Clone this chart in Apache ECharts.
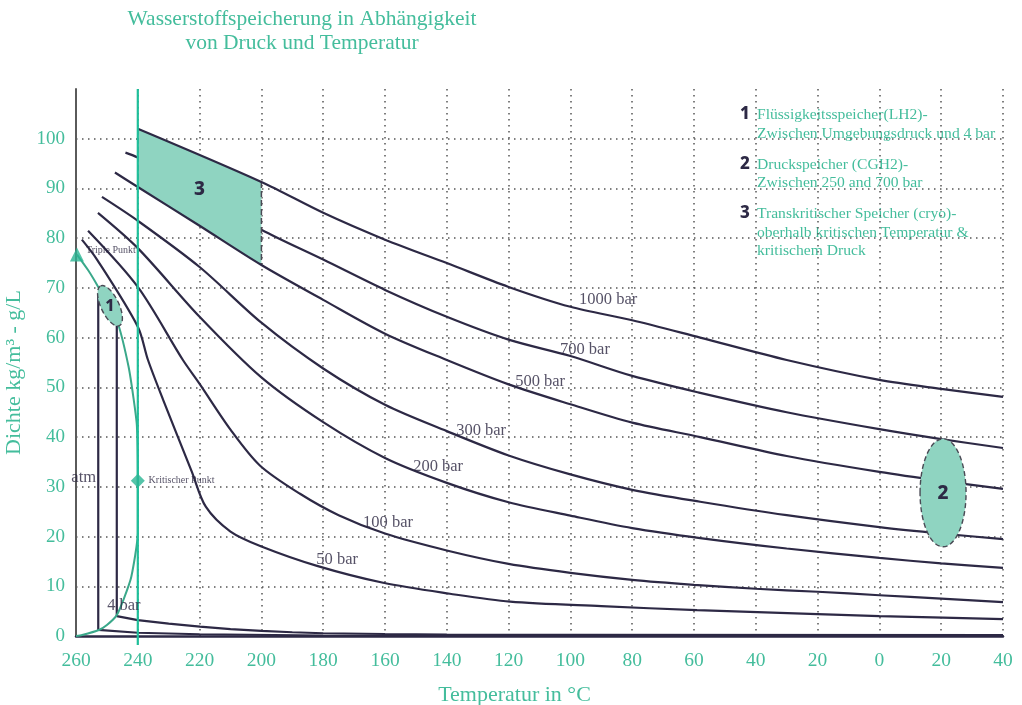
<!DOCTYPE html>
<html>
<head>
<meta charset="utf-8">
<script src="https://cdn.jsdelivr.net/npm/echarts@6/dist/echarts.min.js"></script>
<style>
  html, body { margin: 0; padding: 0; background: #fff; }
  #chart { width: 1022px; height: 705px; }
</style>
</head>
<body>
<div id="chart"></div>
<script>
// isobars: [Temperatur °C, Dichte g/L]
const p1000 = [[-240,102],[-200,91.3],[-180,85.1],[-160,79.7],[-140,75],[-120,70.2],[-100,66.2],[-80,63.5],[-58,60],[-30,55.5],[0,51.5],[20,49.7],[40,48.1]];
const p700 = [[-244,97.2],[-240,96.2],[-220,89],[-200,81.7],[-180,75.7],[-160,69.6],[-140,64.2],[-120,59.6],[-100,56.3],[-80,52.3],[-58,48.9],[-30,45],[0,41.6],[20,39.6],[40,37.8]];
const p500 = [[-247.4,93.2],[-240,90.3],[-220,82.5],[-200,74.6],[-180,67.6],[-160,60.8],[-140,55.5],[-120,50.6],[-100,46.6],[-80,42.9],[-58,40],[-30,36.2],[0,33],[20,31.2],[40,29.6]];
const p300 = [[-251.6,88.3],[-240,83.5],[-220,74.2],[-200,63],[-180,53.8],[-160,46.5],[-140,41.2],[-120,36.3],[-100,32.5],[-80,29.4],[-58,27],[-30,24.3],[0,21.9],[20,20.6],[40,19.5]];
const p200 = [[-252.9,85.1],[-240,78],[-220,64.2],[-200,52],[-180,43],[-160,35.8],[-140,30.8],[-120,26.9],[-100,24.2],[-80,21.7],[-58,19.7],[-30,17.6],[0,15.7],[20,14.6],[40,13.7]];
const p100 = [[-256.1,81.5],[-240,70.2],[-225.4,55.5],[-220,50.7],[-210,41.5],[-200.5,34.3],[-187.5,28.6],[-175,24.3],[-160,20.6],[-140,17.2],[-120,14.5],[-100,12.7],[-80,11.3],[-60,10.3],[-40,9.5],[-20,8.9],[0,8.2],[20,7.5],[40,6.8]];
const p50 = [[-258.1,79.7],[-253.2,75.7],[-240,62.2],[-236.7,55.5],[-231.8,47.5],[-222.5,33],[-218,26],[-210,21],[-200,18],[-182,14.1],[-160.6,10.7],[-139,8.5],[-119.5,6.9],[-90,6],[-59,5.2],[-20,4.4],[0,4],[40,3.4]];
const p4 = [[-246.8,62.6],[-246.8,4],[-240,3.2],[-230,2.5],[-219.9,1.9],[-210,1.4],[-200,1.05],[-190,0.75],[-180,0.55],[-160,0.4],[-140,0.3],[-100,0.25],[40,0.2]];
const pAtm = [[-252.8,69],[-252.8,1.25],[-240,0.65],[-220,0.35],[-180,0.1],[40,0.05]];
// Sättigungslinie (Tripelpunkt -> kritischer Punkt -> Dampf)
const saturation = [[-259.7,76.7],[-256,73.5],[-252.8,70.2],[-249.5,66.5],[-246.3,62.6],[-243,54.2],[-241.4,47.9],[-240.3,42.3],[-240,31.2],[-240,20.7],[-242.1,11.9],[-244.5,7.5],[-246.8,4.2],[-250,2.2],[-252.6,1.2],[-258,0.2],[-260,0]];
const triplePoint = [-259.7, 76.7];
const criticalPoint = [-240, 31.2];
const criticalLine = [[-240, -1.8], [-240, 110]];

// Speicherbereiche
const zone1 = [-249, 66.4];
const zone2 = [20.6, 28.8];
const zone3 = [[-240,102],[-200,91.3],[-200,74.6],[-240,90.3]];
const zone3Label = [-220, 89.8];

// Beschriftungen
const curveLabels = [
  [-87.8, 67.6, '1000 bar'],
  [-95.3, 57.5, '700 bar'],
  [-109.8, 51.1, '500 bar'],
  [-128.9, 41.2, '300 bar'],
  [-142.8, 34, '200 bar'],
  [-159, 22.7, '100 bar'],
  [-175.5, 15.3, '50 bar'],
  [-244.5, 6, '4 bar'],
  [-257.5, 31.8, 'atm']
];
const pointLabels = [
  [-256.8, 77.5, 'Triple Punkt'],
  [-236.5, 31.2, 'Kritischer Punkt']
];
const legendItems = [
  ['1', 'Flüssigkeitsspeicher(LH2)-', 'Zwischen Umgebungsdruck und 4 bar'],
  ['2', 'Druckspeicher (CGH2)-', 'Zwischen 250 and 700 bar'],
  ['3', 'Transkritischer Speicher (cryo)-', 'oberhalb kritischen Temperatur &', 'kritischem Druck']
];

const TEAL = '#44bd9c';
const FILL = '#8fd4c1';
const DARK = '#2d2945';
const SERIF = '"Liberation Serif", "DejaVu Serif", serif';
const BOLD = '"Noto Sans", "DejaVu Sans", sans-serif';

const chart = echarts.init(document.getElementById('chart'), null, {renderer: 'canvas'});

function isobar(data, z, smooth) {
  return {
    type: 'line', data: data, showSymbol: false, silent: true, z: z || 2,
    smooth: smooth === false ? false : 0.3,
    lineStyle: {color: DARK, width: 2.2}
  };
}

function ellipseItem(rx, ry, rot, text, fontSize) {
  return function (params, api) {
    const c = api.coord([api.value(0), api.value(1)]);
    return {
      type: 'group',
      children: [
        {type: 'ellipse', shape: {cx: 0, cy: 0, rx: rx, ry: ry}, x: c[0], y: c[1], rotation: rot,
          style: {fill: FILL, stroke: '#4a4a55', lineWidth: 1.4, lineDash: [5, 3]}},
        {type: 'text', x: c[0], y: c[1] + 1,
          style: {text: text, fill: DARK, font: '800 ' + fontSize + 'px ' + BOLD, align: 'center', verticalAlign: 'middle'}}
      ]
    };
  };
}

let legendGraphics = [];
let ly = 116;
legendItems.forEach(function (it) {
  legendGraphics.push({type: 'text', left: 740, top: ly - 10,
    style: {text: it[0], fill: DARK, font: '800 17px ' + BOLD}});
  it.slice(1).forEach(function (line, k) {
    legendGraphics.push({type: 'text', left: 757, top: ly - 9 + k * 18.5,
      style: {text: line, fill: TEAL, font: '15.6px ' + SERIF}});
  });
  ly += it.length === 4 ? 50 : 49.5;
});

const option = {
  animation: false,
  backgroundColor: '#fff',
  title: {
    text: 'Wasserstoffspeicherung in Abhängigkeit\nvon Druck und Temperatur',
    left: 297, top: 2, textAlign: 'center',
    textStyle: {color: TEAL, fontFamily: SERIF, fontWeight: 'normal', fontSize: 21.5, lineHeight: 24}
  },
  grid: {left: 76, right: 19, top: 89, bottom: 69, containLabel: false, outerBoundsMode: 'none'},
  xAxis: {
    type: 'value', min: -260, max: 40, interval: 20,
    name: 'Temperatur in °C', nameLocation: 'middle', nameGap: 48,
    nameTextStyle: {color: TEAL, fontFamily: SERIF, fontSize: 22, padding: [0, 50, 0, 0]},
    axisLine: {show: true, onZero: false, lineStyle: {color: DARK, width: 2.5}},
    axisTick: {show: false},
    axisLabel: {color: TEAL, fontFamily: SERIF, fontSize: 19.5, margin: 15,
      formatter: function (v) { return String(Math.abs(v)); }},
    splitLine: {show: true, showMinLine: false, lineStyle: {color: '#555', width: 1.5, type: [1.5, 4.5]}}
  },
  yAxis: {
    type: 'value', min: 0, max: 110, interval: 10,
    name: 'Dichte kg/m³ - g/L', nameLocation: 'middle', nameGap: 46, nameRotate: 90,
    nameTextStyle: {color: TEAL, fontFamily: SERIF, fontSize: 22, padding: [0, 20, 0, 0]},
    axisLine: {show: true, onZero: false, lineStyle: {color: '#5a5a5a', width: 2}},
    axisTick: {show: false},
    axisLabel: {color: TEAL, fontFamily: SERIF, fontSize: 19, margin: 11,
      formatter: function (v) { return v > 100 ? '' : String(v); }},
    splitLine: {show: true, showMinLine: false, showMaxLine: false, lineStyle: {color: '#555', width: 1.5, type: [1.5, 4.5]}}
  },
  graphic: legendGraphics,
  series: [
    isobar(p700, 2),
    isobar(p300, 2),
    isobar(p200, 2),
    isobar(p100, 2),
    isobar(p50, 2),
    isobar(p4, 2, false),
    isobar(pAtm, 2, false),
    {
      type: 'line', data: saturation, showSymbol: false, silent: true, z: 3, smooth: 0.2,
      lineStyle: {color: '#3aa88a', width: 2}
    },
    {
      type: 'custom', z: 3, silent: true, data: [zone3Label],
      renderItem: function (params, api) {
        const pts = zone3.map(function (p) { return api.coord(p); });
        const c = api.coord([api.value(0), api.value(1)]);
        return {
          type: 'group',
          children: [
            {type: 'polygon', shape: {points: pts}, style: {fill: FILL}},
            {type: 'line', shape: {x1: pts[0][0], y1: pts[0][1], x2: pts[3][0], y2: pts[3][1]},
              style: {stroke: '#4a4a55', lineWidth: 1.5, lineDash: [6, 3]}},
            {type: 'line', shape: {x1: pts[1][0], y1: pts[1][1], x2: pts[2][0], y2: pts[2][1]},
              style: {stroke: '#4a4a55', lineWidth: 1.5, lineDash: [6, 3]}},
            {type: 'text', x: c[0], y: c[1],
              style: {text: '3', fill: DARK, font: '800 19px ' + BOLD, align: 'center', verticalAlign: 'middle'}}
          ]
        };
      }
    },
    isobar(p1000, 4),
    isobar(p500, 4),
    {
      type: 'line', data: criticalLine, showSymbol: false, silent: true, z: 4, clip: false,
      lineStyle: {color: '#1fbf9a', width: 2.2, type: 'solid'}
    },
    {type: 'custom', z: 5, silent: true, data: [zone1], renderItem: ellipseItem(22, 9, -1.13, '1', 16)},
    {type: 'custom', z: 5, silent: true, data: [zone2], renderItem: ellipseItem(23, 54, 0, '2', 19)},
    {
      type: 'scatter', z: 6, silent: true, symbolSize: 14,
      itemStyle: {color: '#2bb594'},
      data: [{value: triplePoint, symbol: 'triangle'}, {value: criticalPoint, symbol: 'diamond'}]
    },
    {
      type: 'scatter', z: 6, silent: true, symbolSize: 0, data: curveLabels,
      label: {show: true, position: 'inside', color: '#2a2540', fontFamily: SERIF, fontSize: 16.5,
        formatter: function (p) { return p.value[2]; }}
    },
    {
      type: 'scatter', z: 6, silent: true, symbolSize: 0, data: pointLabels,
      label: {show: true, position: 'right', distance: 0, color: '#2a2540', fontFamily: SERIF, fontSize: 10,
        formatter: function (p) { return p.value[2]; }}
    }
  ]
};

chart.setOption(option);
</script>
</body>
</html>
